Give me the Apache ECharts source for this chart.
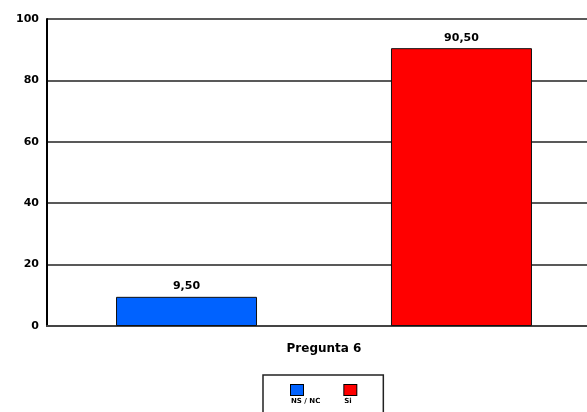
<!DOCTYPE html>
<html>
<head>
<meta charset="utf-8">
<script src="https://cdn.jsdelivr.net/npm/echarts@6/dist/echarts.min.js"></script>
<style>
  html, body { margin: 0; padding: 0; background: #fff; }
  #chart { width: 587px; height: 412px; }
</style>
</head>
<body>
<div id="chart"></div>
<script>
// Survey answers for question 6 (percentages)
const categories = ['Pregunta 6'];
const seriesNames = ['NS / NC', 'Si'];
const nsncValues = [9.5];
const siValues = [90.5];
const yTicks = [0, 20, 40, 60, 80, 100];

const colors = ['#0062FF', '#FF0000'];
const font = '"DejaVu Sans", Arial, sans-serif';
const fmt = v => v.toFixed(2).replace('.', ',');

const chart = echarts.init(document.getElementById('chart'), null, { renderer: 'canvas' });

// legend entries: coloured square stacked above the name
const legendRich = {
  t: { fontFamily: font, fontSize: 7, fontWeight: 'bold', color: '#000', align: 'left', lineHeight: 12 }
};
seriesNames.forEach((n, i) => {
  legendRich['b' + i] = {
    width: 12, height: 10, backgroundColor: colors[i],
    borderColor: '#000', borderWidth: 1, align: 'left'
  };
});

const valueLabel = {
  show: true, position: 'top', distance: 5,
  fontFamily: font, fontSize: 11, fontWeight: 'bold', color: '#000',
  formatter: p => fmt(p.value)
};

chart.setOption({
  animation: false,
  backgroundColor: '#fff',
  // plot area runs past the right edge of the canvas
  grid: { left: 47, width: 554, top: 19, bottom: 86, outerBoundsMode: 'none', containLabel: false },
  xAxis: {
    type: 'category',
    data: categories,
    axisLine: { lineStyle: { color: '#444', width: 2 } },
    axisTick: { show: false },
    axisLabel: { fontFamily: font, fontSize: 12, fontWeight: 'bold', color: '#000', margin: 17 }
  },
  yAxis: {
    type: 'value',
    min: yTicks[0],
    max: yTicks[yTicks.length - 1],
    interval: yTicks[1] - yTicks[0],
    axisLine: { show: true, lineStyle: { color: '#000', width: 2 } },
    axisTick: { show: false },
    splitLine: { lineStyle: { color: '#222', width: 1.5 } },
    axisLabel: { fontFamily: font, fontSize: 11, fontWeight: 'bold', color: '#000', margin: 8 }
  },
  legend: {
    left: 263,
    top: 375,
    orient: 'horizontal',
    data: seriesNames,
    icon: 'rect',
    itemWidth: 0,
    itemHeight: 0,
    itemGap: 18,
    padding: [9, 26, 14, 22],
    borderColor: '#222',
    borderWidth: 1.5,
    formatter: name => '{b' + seriesNames.indexOf(name) + '|}\n{t|' + name + '}',
    textStyle: { rich: legendRich }
  },
  series: [
    {
      name: seriesNames[0],
      type: 'bar',
      data: nsncValues,
      barWidth: 141,
      barGap: '95%',
      itemStyle: { color: colors[0], borderColor: '#111', borderWidth: 1 },
      label: valueLabel
    },
    {
      name: seriesNames[1],
      type: 'bar',
      data: siValues,
      barWidth: 141,
      barGap: '95%',
      itemStyle: { color: colors[1], borderColor: '#111', borderWidth: 1 },
      label: valueLabel
    }
  ]
});
</script>
</body>
</html>
